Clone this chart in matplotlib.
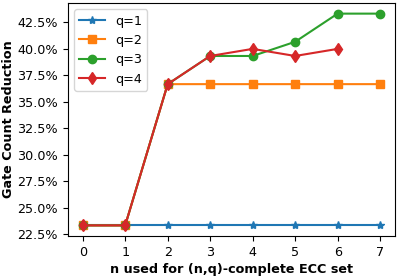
import numpy as np
import matplotlib.pyplot as plt
from matplotlib.ticker import FuncFormatter

n_vals = [0, 1, 2, 3, 4, 5, 6, 7]
q1 = [23.33, 23.33, 23.33, 23.33, 23.33, 23.33, 23.33, 23.33]
q2 = [23.33, 23.33, 36.67, 36.67, 36.67, 36.67, 36.67, 36.67]
q3 = [23.33, 23.33, 36.67, 39.33, 39.33, 40.67, 43.33, 43.33]
q4 = [23.33, 23.33, 36.67, 39.33, 40.0, 39.33, 40.0]

plt.rcParams['font.size'] = 9.2

fig, ax = plt.subplots(figsize=(3.99, 2.76), dpi=100)
ax.plot(n_vals, q1, marker='*', label='q=1')
ax.plot(n_vals, q2, marker='s', label='q=2')
ax.plot(n_vals, q3, marker='o', label='q=3')
ax.plot(n_vals[:len(q4)], q4, marker='d', label='q=4')

ax.yaxis.set_major_formatter(FuncFormatter(lambda v, p: '%.1f%%' % v))
ax.set_yticks(np.arange(22.5, 43, 2.5))
ax.set_xticks(n_vals)
ax.set_xlabel('n used for (n,q)-complete ECC set', fontweight='bold', labelpad=3)
ax.set_ylabel('Gate Count Reduction', fontweight='bold', labelpad=2)
ax.legend(loc='upper left')
fig.subplots_adjust(left=0.170, right=0.990, bottom=0.145, top=0.989)
fig.savefig('out.png')
